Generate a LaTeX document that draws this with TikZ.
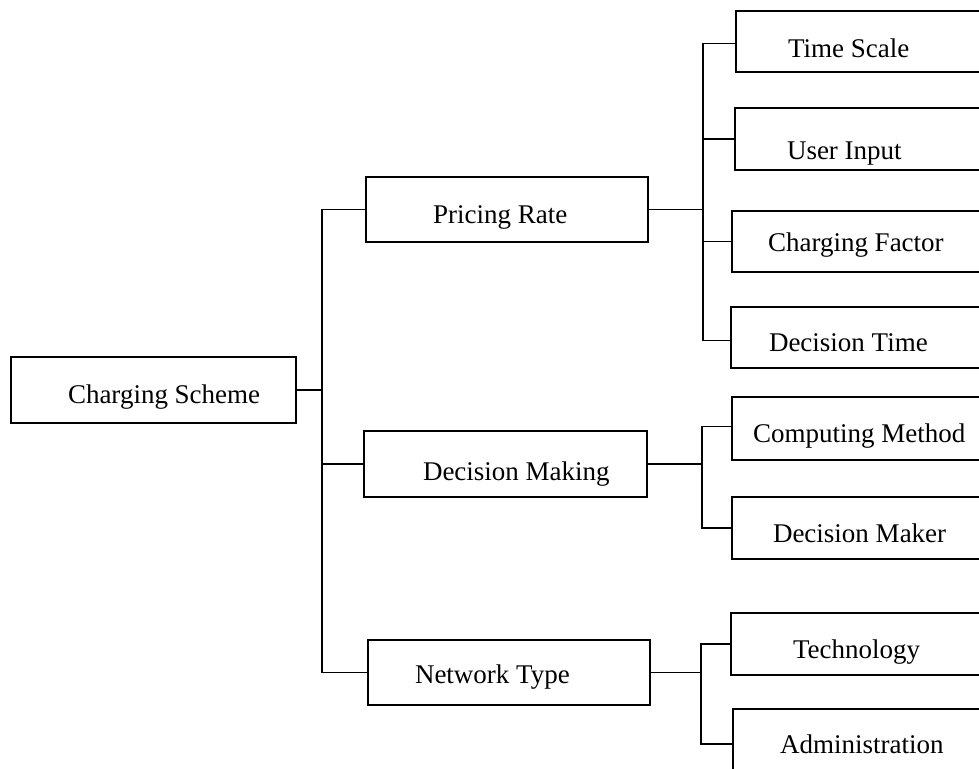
\documentclass[tikz,border=0pt]{standalone}
\usepackage{fontspec}
\setmainfont{Liberation Serif}
\begin{document}
\begin{tikzpicture}[x=1pt,y=-1pt,
  box/.style={draw=black, line width=1.5pt, inner sep=0pt, outer sep=0pt,
              rectangle, anchor=north west},
  lbl/.style={inner sep=0pt, outer sep=0pt, anchor=base west,
              font=\fontsize{27}{30}\selectfont},
  wire/.style={draw=black, line width=1.5pt, line cap=rect}]
\useasboundingbox (0,0) rectangle (979,768);
\clip (0,0) rectangle (979,768);

% root
\node[box, minimum width=285pt, minimum height=66pt] (cs) at (11,357) {};
\node[lbl] (cs-t) at (68,403) {Charging Scheme};

% second level
\node[box, minimum width=282pt, minimum height=65pt] (pr) at (366,177) {};
\node[lbl] (pr-t) at (433,223) {Pricing Rate};
\node[box, minimum width=283pt, minimum height=66pt] (dm) at (364,431) {};
\node[lbl] (dm-t) at (423,480) {Decision Making};
\node[box, minimum width=282pt, minimum height=65pt] (nt) at (368,640) {};
\node[lbl] (nt-t) at (415,683) {Network Type};

% leaves (running past the right edge)
\node[box, minimum width=260pt, minimum height=61pt] (ts) at (736,11) {};
\node[lbl] (ts-t) at (788,57) {Time Scale};
\node[box, minimum width=260pt, minimum height=62pt] (ui) at (735,108) {};
\node[lbl] (ui-t) at (787,159) {User Input};
\node[box, minimum width=260pt, minimum height=61pt] (cf) at (732,211) {};
\node[lbl] (cf-t) at (768,251) {Charging Factor};
\node[box, minimum width=260pt, minimum height=61pt] (dt) at (731,307) {};
\node[lbl] (dt-t) at (769,351) {Decision Time};

\node[box, minimum width=260pt, minimum height=63pt] (cm) at (732,397) {};
\node[lbl] (cm-t) at (753,442) {Computing Method};
\node[box, minimum width=260pt, minimum height=62pt] (mk) at (732,497) {};
\node[lbl] (mk-t) at (773,542) {Decision Maker};

\node[box, minimum width=260pt, minimum height=62pt] (te) at (731,613) {};
\node[lbl] (te-t) at (793,658) {Technology};
\node[box, minimum width=260pt, minimum height=70pt] (ad) at (733,709) {};
\node[lbl] (ad-t) at (780,753) {Administration};

% bus lines
\coordinate (b0) at (322,0);
\coordinate (b1) at (703,0);
\coordinate (b2) at (702,0);
\coordinate (b3) at (701,0);

% root to second level
\draw[wire] (cs.east) -- (b0 |- cs.east);
\draw[wire] (b0 |- pr.west) -- (b0 |- nt.west);
\draw[wire] (b0 |- pr.west) -- (pr.west);
\draw[wire] (b0 |- dm.west) -- (dm.west);
\draw[wire] (b0 |- nt.west) -- (nt.west);

% pricing rate branch
\draw[wire] (pr.east) -- (b1 |- pr.east);
\draw[wire] ([yshift=-2pt]b1 |- ts.west) -- ([yshift=-3pt]b1 |- dt.west);
\draw[wire] ([yshift=-2pt]b1 |- ts.west) -- ([yshift=-2pt]ts.west);
\draw[wire] (b1 |- ui.west) -- (ui.west);
\draw[wire] (b1 |- cf.west) -- (cf.west);
\draw[wire] ([yshift=-3pt]b1 |- dt.west) -- ([yshift=-3pt]dt.west);

% decision making branch
\draw[wire] (dm.east) -- (b2 |- dm.east);
\draw[wire] ([yshift=2pt]b2 |- cm.west) -- (b2 |- mk.west);
\draw[wire] ([yshift=2pt]b2 |- cm.west) -- ([yshift=2pt]cm.west);
\draw[wire] (b2 |- mk.west) -- (mk.west);

% network type branch
\draw[wire] (nt.east) -- (b3 |- nt.east);
\draw[wire] (b3 |- te.west) -- (b3 |- ad.west);
\draw[wire] (b3 |- te.west) -- (te.west);
\draw[wire] (b3 |- ad.west) -- (ad.west);
\end{tikzpicture}
\end{document}
